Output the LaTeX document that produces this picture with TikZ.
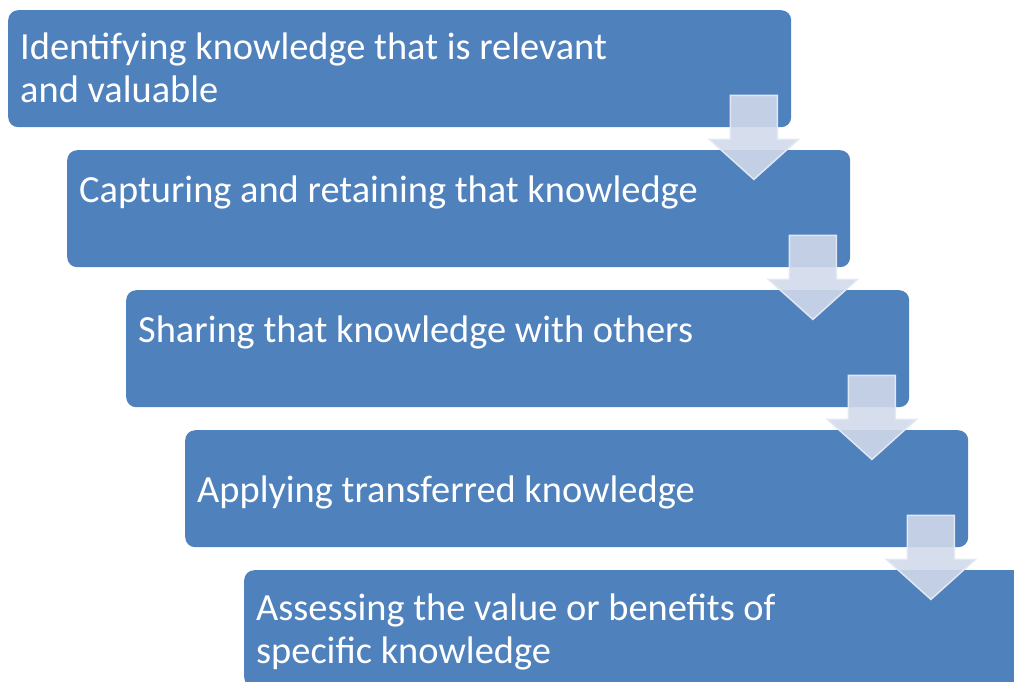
\documentclass[tikz,border=0pt]{standalone}
\usepackage{fontspec}
\setmainfont{Carlito}
\usepackage{tikz}

\definecolor{stepblue}{RGB}{79,129,189}
\definecolor{arrowfill}{RGB}{209,217,234}
\definecolor{arrowedge}{RGB}{226,232,242}

\tikzset{
	stepbox/.style={fill=stepblue, rounded corners=10pt, minimum width=783pt, minimum height=117pt, anchor=north west, inner sep=0pt},
	steptext/.style={text=white, font=\fontsize{38.4}{43}\selectfont, anchor=base west, inner sep=0pt, align=left},
	flow/.style={fill=arrowfill, draw=arrowedge, line width=1.5pt, fill opacity=0.89}
}

\begin{document}
\begin{tikzpicture}[x=1pt,y=-1pt]

	\useasboundingbox (0,0) rectangle (1014,681);
	\clip (0,0) rectangle (1014,681);

	%The five steps
	\node [stepbox] (s1) at (8,10) {};
	\node [stepbox] (s2) at (67,150) {};
	\node [stepbox] (s3) at (126,290) {};
	\node [stepbox] (s4) at (185,430) {};
	\node [stepbox] (s5) at (244,570) {};

	%Down arrows from one step to the next
	\draw [flow] (s1.south east) ++(-61,-32) -- ++(47,0) -- ++(0,44) -- ++(21,0) -- ++(-44.5,40) -- ++(-44.5,-40) -- ++(21,0) -- cycle;
	\draw [flow] (s2.south east) ++(-61,-32) -- ++(47,0) -- ++(0,44) -- ++(21,0) -- ++(-44.5,40) -- ++(-44.5,-40) -- ++(21,0) -- cycle;
	\draw [flow] (s3.south east) ++(-61,-32) -- ++(47,0) -- ++(0,44) -- ++(21,0) -- ++(-44.5,40) -- ++(-44.5,-40) -- ++(21,0) -- cycle;
	\draw [flow] (s4.south east) ++(-61,-32) -- ++(47,0) -- ++(0,44) -- ++(21,0) -- ++(-44.5,40) -- ++(-44.5,-40) -- ++(21,0) -- cycle;

	%Labels (base is the last line)
	\node [steptext] (t1) at (20,102) {Identifying knowledge that is relevant\\and valuable};
	\node [steptext] (t2) at (79,202) {Capturing and retaining that knowledge};
	\node [steptext] (t3) at (138,342) {Sharing that knowledge with others};
	\node [steptext] (t4) at (197,502) {Applying transferred knowledge};
	\node [steptext] (t5) at (256,663) {Assessing the value or benefits of\\specific knowledge};

\end{tikzpicture}
\end{document}
